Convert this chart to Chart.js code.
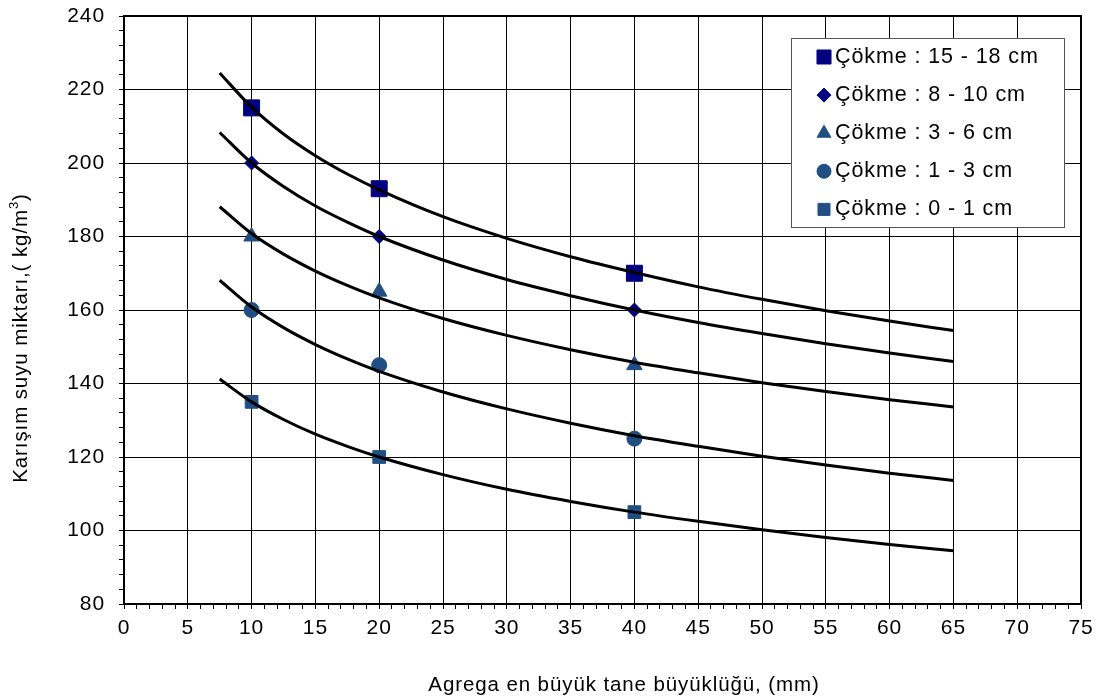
<!DOCTYPE html>
<html>
<head>
<meta charset="utf-8">
<script src="https://cdn.jsdelivr.net/npm/chart.js@4/dist/chart.umd.min.js"></script>
<style>
  html, body { margin: 0; padding: 0; background: #ffffff; }
  #wrap { width: 1100px; height: 700px; }
</style>
</head>
<body>
<div id="wrap"><canvas id="c" width="1100" height="700"></canvas></div>
<script>
// Maximum aggregate size (mm) for the measured points
const sizes = [10, 20, 40];

// Mixing water (kg/m3) per slump class
const cokme15_18 = [215, 193, 170];
const cokme8_10  = [200, 180, 160];
const cokme3_6   = [180, 165, 145];
const cokme1_3   = [160, 145, 125];
const cokme0_1   = [135, 120, 105];

// Trend curves, sampled along the aggregate size axis
const curveX      = [7.5, 10, 12.5, 15, 17.5, 20, 25, 30, 35, 40, 45, 50, 55, 60, 65];
const curve15_18  = [224.5, 215.2, 207.9, 202.0, 197.0, 192.7, 185.4, 179.5, 174.5, 170.2, 166.3, 162.9, 159.8, 157.0, 154.4];
const curve8_10   = [208.3, 200.0, 193.6, 188.3, 183.9, 180.0, 173.6, 168.3, 163.9, 160.0, 156.6, 153.6, 150.8, 148.3, 146.0];
const curve3_6    = [188.1, 180.8, 175.2, 170.6, 166.7, 163.3, 157.7, 153.1, 149.2, 145.8, 142.9, 140.2, 137.8, 135.6, 133.6];
const curve1_3    = [168.1, 160.8, 155.2, 150.6, 146.7, 143.3, 137.7, 133.1, 129.2, 125.8, 122.9, 120.2, 117.8, 115.6, 113.6];
const curve0_1    = [141.2, 135.0, 130.2, 126.2, 122.9, 120.0, 115.2, 111.2, 107.9, 105.0, 102.5, 100.2, 98.1, 96.2, 94.5];

// Axis ranges and label texts
const xTicks = { min: 0, max: 75, major: 5, minor: 1 };
const yTicks = { min: 80, max: 240, major: 20, minor: 4 };
const seriesLabels = [
  'Çökme : 15 - 18 cm',
  'Çökme : 8 - 10 cm',
  'Çökme : 3 - 6 cm',
  'Çökme : 1 - 3 cm',
  'Çökme : 0 - 1 cm'
];
const xTitle = 'Agrega en büyük tane büyüklüğü, (mm)';
const yTitleMain = 'Karışım suyu miktarı,( kg/m';
const yTitleSup = '3';
const yTitleEnd = ')';

const FONT = "'Liberation Sans', Arial, Helvetica, sans-serif";
const SPACING = '0.9px';
const NAVY = '#000080';
const STEEL = '#214f84';

const xy = (xs, ys) => xs.map((x, i) => ({ x: x, y: ys[i] }));

const curveSets = [curve15_18, curve8_10, curve3_6, curve1_3, curve0_1].map(vals => ({
  label: '',
  data: xy(curveX, vals),
  showLine: true,
  borderColor: '#000000',
  borderWidth: 3,
  pointRadius: 0,
  cubicInterpolationMode: 'monotone',
  fill: false,
  order: 0
}));

const markerStyles = [
  { style: 'rect',     radius: 11.3, color: NAVY,  legendRadius: 9.9 },
  { style: 'rectRot',  radius: 7,    color: NAVY,  legendRadius: 7 },
  { style: 'triangle', radius: 9,    color: STEEL, legendRadius: 8 },
  { style: 'circle',   radius: 7.5,  color: STEEL, legendRadius: 7 },
  { style: 'rect',     radius: 9,    color: STEEL, legendRadius: 8.5 }
];

const markerSets = [cokme15_18, cokme8_10, cokme3_6, cokme1_3, cokme0_1].map((vals, i) => ({
  label: seriesLabels[i],
  data: xy(sizes, vals),
  showLine: false,
  pointStyle: markerStyles[i].style,
  pointRadius: markerStyles[i].radius,
  backgroundColor: markerStyles[i].color,
  borderColor: markerStyles[i].color,
  borderWidth: 1,
  order: 1
}));

// Text spacing, plot frame, axis titles and the boxed legend
const decorations = {
  id: 'decorations',
  beforeDraw(chart) {
    const ctx = chart.ctx;
    ctx.fillStyle = '#ffffff';
    ctx.fillRect(0, 0, chart.width, chart.height);
    if ('letterSpacing' in ctx) ctx.letterSpacing = SPACING;
  },
  afterDraw(chart) {
    const ctx = chart.ctx;
    const a = chart.chartArea;
    ctx.save();
    if ('letterSpacing' in ctx) ctx.letterSpacing = SPACING;

    // plot frame
    ctx.strokeStyle = '#000000';
    ctx.lineWidth = 2;
    ctx.strokeRect(a.left, a.top, a.right - a.left, a.bottom - a.top);

    // x axis title
    ctx.fillStyle = '#000000';
    ctx.font = '20.5px ' + FONT;
    ctx.textAlign = 'center';
    ctx.textBaseline = 'middle';
    ctx.fillText(xTitle, 624, 685);

    // y axis title with superscript
    ctx.save();
    ctx.translate(21, 338);
    ctx.rotate(-Math.PI / 2);
    ctx.textAlign = 'left';
    ctx.textBaseline = 'middle';
    ctx.font = '20.5px ' + FONT;
    const wMain = ctx.measureText(yTitleMain).width;
    const wEnd = ctx.measureText(yTitleEnd).width;
    ctx.font = '13px ' + FONT;
    const wSup = ctx.measureText(yTitleSup).width;
    let x0 = -(wMain + wSup + wEnd) / 2;
    ctx.font = '20.5px ' + FONT;
    ctx.fillText(yTitleMain, x0, 0);
    ctx.font = '13px ' + FONT;
    ctx.fillText(yTitleSup, x0 + wMain, -7);
    ctx.font = '20.5px ' + FONT;
    ctx.fillText(yTitleEnd, x0 + wMain + wSup, 0);
    ctx.restore();

    // legend box
    const box = { x: 791.5, y: 38.5, w: 273, h: 189 };
    ctx.fillStyle = '#ffffff';
    ctx.fillRect(box.x, box.y, box.w, box.h);
    ctx.strokeStyle = '#555555';
    ctx.lineWidth = 1;
    ctx.strokeRect(box.x, box.y, box.w, box.h);

    ctx.font = '21.5px ' + FONT;
    ctx.textAlign = 'left';
    ctx.textBaseline = 'middle';
    markerSets.forEach((ds, i) => {
      const rowY = 57 + i * 38.1;
      const m = markerStyles[i];
      ctx.fillStyle = m.color;
      ctx.strokeStyle = m.color;
      ctx.lineWidth = 1;
      Chart.helpers.drawPoint(ctx, { pointStyle: m.style, radius: m.legendRadius, rotation: 0, borderWidth: 1 }, 824, rowY);
      ctx.fillStyle = '#000000';
      ctx.fillText(ds.label, 835, rowY);
    });
    ctx.restore();
  }
};

const isMultiple = (v, step) => Math.abs(Math.round(v / step) * step - v) < 1e-6;

new Chart(document.getElementById('c'), {
  type: 'scatter',
  data: { datasets: [...curveSets, ...markerSets] },
  options: {
    responsive: false,
    devicePixelRatio: 1,
    animation: false,
    events: [],
    layout: { padding: { top: 16, right: 19, left: 0, bottom: 0 } },
    plugins: {
      legend: { display: false },
      tooltip: { enabled: false },
      title: { display: false }
    },
    scales: {
      x: {
        type: 'linear',
        min: xTicks.min,
        max: xTicks.max,
        afterFit(scale) {
          scale.height = 96;
          scale.paddingLeft = 0;
          scale.paddingRight = 0;
        },
        ticks: {
          stepSize: xTicks.minor,
          autoSkip: false,
          maxRotation: 0,
          padding: 7,
          color: '#000000',
          font: { family: FONT, size: 21 },
          callback: v => isMultiple(v, xTicks.major) ? String(v) : ''
        },
        grid: {
          color: c => (c.tick && isMultiple(c.tick.value, xTicks.major)) ? '#000000' : 'rgba(0,0,0,0)',
          tickColor: '#000000',
          tickLength: 5,
          lineWidth: 1
        },
        border: { color: '#000000', width: 2 }
      },
      y: {
        type: 'linear',
        min: yTicks.min,
        max: yTicks.max,
        afterFit(scale) {
          scale.width = 124;
          scale.paddingTop = 0;
          scale.paddingBottom = 0;
        },
        ticks: {
          stepSize: yTicks.minor,
          autoSkip: false,
          padding: 14,
          color: '#000000',
          font: { family: FONT, size: 21 },
          callback: v => isMultiple(v, yTicks.major) ? String(v) : ''
        },
        grid: {
          color: c => (c.tick && isMultiple(c.tick.value, yTicks.major)) ? '#000000' : 'rgba(0,0,0,0)',
          tickColor: '#000000',
          tickLength: 5,
          lineWidth: 1
        },
        border: { color: '#000000', width: 2 }
      }
    }
  },
  plugins: [decorations]
});
</script>
</body>
</html>
